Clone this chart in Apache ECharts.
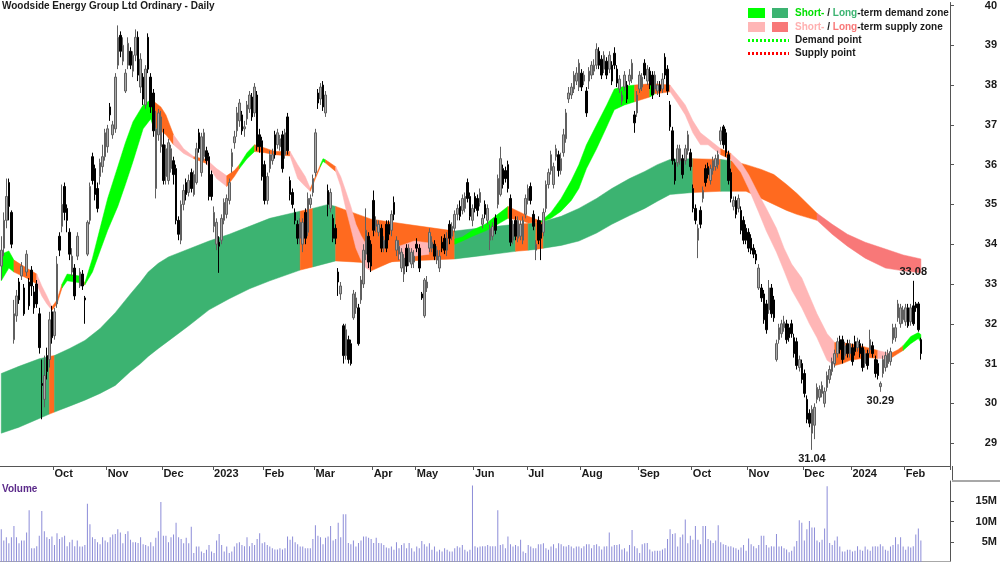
<!DOCTYPE html>
<html><head><meta charset="utf-8">
<script src="https://cdn.jsdelivr.net/npm/echarts@6/dist/echarts.min.js"></script>
<style>html,body{margin:0;padding:0;background:#fff}#c{width:1000px;height:562px}</style>
</head><body><div id="c"></div>
<script>
// ---------- DATA ----------
const slotCount = 375; // trading-day slots on the x axis (364 days + right margin)
const monthStarts = [21,42,64,84,104,124,147,164,187,208,229,252,273,295,317,336,357];
const monthLabels = ['Oct','Nov','Dec','2023','Feb','Mar','Apr','May','Jun','Jul','Aug','Sep','Oct','Nov','Dec','2024','Feb'];
const priceTicks = [29,30,31,32,33,34,35,36,37,38,39,40];
const volumeTicks = [5,10,15];

// [open, close, low, high]
const ohlc = [
[33.45,33.85,33.1,34.2],[33.9,34.6,33.7,34.8],[34.6,35.2,34.4,35.65],[35.55,34.95,34.6,35.65],[34.8,34.0,33.9,34.85],[31.6,32.25,31.5,32.6],[32.2,32.7,32.05,32.85],[33.05,32.6,32.5,33.15],[33.2,33.45,33.1,33.55],[32.9,32.25,32.2,33.0],
[33.3,33.75,33.2,33.85],[33.05,32.45,32.35,33.15],[33.35,32.95,32.7,33.45],[32.8,32.4,32.25,32.95],[33.0,32.5,32.4,33.1],[32.25,31.4,31.25,32.4],[30.5,30.45,29.6,31.1],[30.1,30.7,29.9,31.2],[31.2,30.8,30.6,31.4],[31.1,32.1,30.9,32.3],
[32.3,31.65,31.5,32.45],[31.7,32.3,31.6,32.4],[32.5,33.5,32.4,33.7],[34.2,33.85,33.7,34.3],[34.45,35.0,34.3,35.5],[35.45,34.8,34.6,35.55],[34.9,34.6,34.3,35.0],[34.3,33.75,33.6,34.4],[33.3,33.7,33.2,33.9],[33.4,32.7,32.6,33.5],
[33.7,34.2,33.6,34.3],[32.95,33.3,32.9,33.4],[33.25,32.95,32.85,33.35],[32.65,32.6,32.0,32.7],[33.75,34.55,33.7,34.6],[34.6,35.45,34.5,35.55],[36.2,35.6,35.5,36.3],[35.9,35.25,35.1,36.0],[35.4,34.9,34.8,35.55],[35.7,36.05,35.5,36.15],
[35.95,36.2,35.8,36.5],[36.2,36.8,36.1,36.9],[36.45,36.9,36.3,37.0],[37.45,37.25,37.1,37.55],[36.75,37.0,36.65,37.1],[36.9,38.2,36.8,38.3],[38.5,39.2,38.4,39.5],[39.25,38.85,38.7,39.35],[38.6,39.0,38.5,39.2],[37.85,38.3,37.8,38.4],
[38.5,39.05,38.4,39.2],[38.85,38.5,38.4,38.95],[38.35,38.75,38.2,38.85],[38.75,39.2,38.6,39.4],[39.2,38.25,38.1,39.35],[37.95,38.65,37.8,38.8],[38.2,37.65,37.5,38.3],[37.5,38.4,37.4,38.5],[39.2,38.4,38.3,39.3],[38.2,37.45,37.3,38.3],
[37.8,36.85,36.7,37.9],[35.4,36.9,35.15,37.35],[36.75,37.3,36.6,37.4],[36.45,37.2,36.3,37.35],[36.5,35.6,35.5,36.9],[35.7,36.4,35.5,36.5],[35.6,36.55,35.5,36.65],[35.9,36.4,35.8,36.5],[36.1,35.75,35.5,36.2],[35.9,34.6,34.5,36.0],
[34.6,34.25,34.1,34.7],[34.1,35.0,34.0,35.1],[35.0,35.35,34.85,35.5],[35.55,35.25,35.1,35.65],[35.3,35.6,35.2,35.75],[35.8,35.4,35.3,35.9],[35.25,35.75,35.2,35.85],[35.55,36.4,35.5,36.55],[36.8,36.4,36.3,36.9],[35.8,36.7,35.7,36.8],
[36.2,36.8,36.1,36.9],[36.35,36.1,36.0,36.45],[36.2,35.2,35.1,36.3],[35.75,35.2,35.1,35.85],[34.45,34.8,34.3,34.95],[34.0,34.55,33.85,34.65],[34.05,33.95,33.28,34.2],[34.1,34.65,34.0,34.75],[34.6,35.05,34.5,35.15],[34.75,35.15,34.65,35.25],
[35.1,35.55,35.0,35.65],[35.95,36.3,35.8,36.4],[36.55,36.7,36.4,36.85],[36.85,37.3,36.7,37.45],[37.1,37.55,36.95,37.65],[37.25,36.85,36.75,37.35],[36.9,36.95,36.7,37.1],[37.15,37.5,37.0,37.6],[37.4,37.75,37.3,37.85],[37.7,37.2,37.1,37.8],
[37.3,37.95,37.2,38.05],[37.75,36.45,36.35,37.85],[36.75,36.45,36.3,36.9],[36.6,35.7,35.6,36.7],[36.0,35.1,35.0,36.1],[35.1,35.7,35.0,35.8],[35.9,36.25,35.8,36.35],[36.1,36.25,36.0,36.4],[36.75,36.25,36.15,36.85],[36.5,36.8,36.4,36.9],
[36.45,36.65,36.35,36.75],[36.75,35.9,35.8,36.85],[36.25,36.8,36.15,36.9],[37.2,36.35,36.25,37.3],[35.6,35.25,35.1,35.7],[35.3,35.0,34.9,35.4],[34.8,34.6,34.5,34.9],[34.5,34.15,34.0,34.6],[34.15,34.55,34.0,34.65],[34.0,34.55,33.8,34.65],
[34.8,34.15,34.0,34.9],[34.3,35.15,34.2,35.3],[35.0,35.15,34.9,35.25],[35.3,35.65,35.2,35.75],[35.8,36.8,35.7,36.9],[37.8,37.55,37.4,37.9],[37.65,37.95,37.5,38.05],[38.0,37.45,37.35,38.1],[37.3,37.75,37.2,37.85],[35.35,35.0,34.7,35.5],
[34.9,35.3,34.8,35.4],[34.65,34.15,34.05,34.75],[34.4,34.15,34.0,34.5],[33.3,33.05,32.7,33.4],[32.75,32.95,32.6,33.05],[31.95,31.2,31.0,32.0],[31.2,31.85,31.1,32.0],[31.6,31.1,31.0,31.7],[31.5,31.0,30.95,31.6],[32.15,32.75,32.1,32.85],
[32.4,32.65,32.25,32.8],[32.4,31.5,31.45,32.5],[32.6,33.1,32.5,33.2],[33.0,33.85,32.9,34.0],[33.75,34.35,33.6,34.9],[34.2,33.55,33.4,34.3],[34.0,33.45,33.3,34.1],[35.1,34.35,34.2,35.35],[34.45,34.6,34.3,34.7],[34.3,34.5,34.2,34.6],
[34.4,33.9,33.8,34.5],[33.9,34.1,33.8,34.2],[34.5,33.9,33.8,34.6],[34.5,34.25,34.1,34.6],[34.35,34.75,34.2,34.85],[35.05,34.75,34.6,35.2],[33.85,34.1,33.7,34.2],[33.75,33.95,33.6,34.1],[33.4,33.8,33.3,33.9],[33.25,33.65,33.05,33.75],
[33.9,33.45,33.3,34.0],[33.55,33.9,33.45,34.0],[33.5,33.8,33.4,33.9],[33.55,33.7,33.4,33.85],[34.0,33.9,33.8,34.15],[33.9,33.4,33.3,34.0],[32.75,32.65,32.6,32.8],[32.2,33.1,32.15,33.15],[32.9,33.05,32.8,33.2],[33.9,34.3,33.8,34.4],
[33.9,34.05,33.8,34.2],[34.0,33.7,33.6,34.1],[33.6,33.85,33.5,33.95],[33.4,33.7,33.3,33.85],[34.05,33.9,33.8,34.2],[34.15,33.85,33.75,34.25],[33.85,34.15,33.7,34.3],[34.5,34.15,34.0,34.6],[34.2,34.45,34.1,34.55],[34.4,34.75,34.3,34.85],
[34.75,34.9,34.6,35.0],[34.95,34.7,34.6,35.1],[34.85,35.15,34.75,35.25],[34.9,35.2,34.8,35.3],[35.55,35.15,35.05,35.65],[35.2,34.7,34.6,35.3],[34.6,34.9,34.45,35.0],[35.2,34.9,34.8,35.3],[35.15,34.85,34.7,35.25],[35.05,35.3,34.95,35.4],
[34.5,34.65,34.4,34.75],[35.0,34.75,34.65,35.1],[34.6,34.9,34.5,35.0],[34.1,34.4,33.85,34.5],[34.2,34.45,34.1,34.55],[34.65,34.35,34.25,34.75],[35.0,35.65,34.9,35.75],[35.25,36.15,35.2,36.45],[35.9,35.5,35.4,36.0],[35.85,35.65,35.55,35.95],
[36.0,35.4,35.3,36.1],[35.15,34.05,33.95,35.25],[34.1,34.5,34.0,34.6],[34.6,34.2,34.1,34.7],[34.15,34.6,34.05,34.7],[34.2,34.5,34.1,34.6],[34.1,34.6,34.0,34.7],[34.75,35.15,34.65,35.25],[35.1,35.4,35.0,35.5],[35.45,35.1,35.0,35.55],
[34.75,34.45,34.35,34.85],[33.85,34.0,33.6,34.1],[34.6,34.1,34.0,34.7],[34.5,34.15,33.6,34.6],[34.3,34.8,34.2,34.9],[34.9,35.5,34.8,35.6],[35.5,35.8,35.4,35.9],[35.85,36.25,35.75,36.35],[35.5,35.95,35.4,36.05],[36.2,36.4,36.1,36.5],
[36.25,35.85,35.7,36.35],[35.85,36.15,35.75,36.3],[36.3,36.75,36.2,36.9],[36.65,37.3,36.55,37.4],[37.65,37.8,37.55,37.95],[37.75,37.95,37.65,38.05],[37.9,38.25,37.8,38.35],[38.1,38.3,38.0,38.45],[37.95,38.55,37.85,38.65],[38.3,37.95,37.85,38.4],
[38.1,38.25,38.0,38.35],[37.85,37.3,37.2,37.95],[38.1,38.35,37.9,38.45],[38.25,38.5,38.15,38.6],[38.35,38.5,38.25,38.65],[38.5,38.9,38.4,39.05],[38.85,38.5,38.4,38.95],[38.65,38.25,38.15,38.75],[38.4,38.75,38.3,38.85],[38.6,38.25,38.15,38.7],
[38.4,38.75,38.3,38.85],[38.5,38.1,38.0,38.6],[38.8,38.5,38.4,38.95],[38.4,38.05,37.95,38.5],[37.9,38.15,37.8,38.25],[37.6,37.75,37.5,37.85],[37.95,38.25,37.85,38.35],[38.0,37.65,37.55,38.1],[38.1,38.25,38.0,38.4],[38.15,38.55,38.05,38.65],
[37.25,37.05,36.8,37.35],[37.3,37.75,37.2,37.85],[37.9,38.25,37.8,38.35],[37.95,38.2,37.85,38.3],[38.55,38.25,38.15,38.65],[38.1,38.4,38.0,38.5],[38.35,38.0,37.9,38.45],[38.25,37.75,37.65,38.35],[37.9,38.25,37.8,38.35],[37.85,38.0,37.75,38.1],
[38.0,37.85,37.7,38.1],[37.9,38.15,37.8,38.3],[38.7,38.25,38.15,38.8],[38.4,37.85,37.75,38.5],[37.5,36.95,36.85,37.6],[36.85,36.1,36.0,36.95],[36.05,35.6,35.5,36.15],[36.05,36.4,35.95,36.5],[36.1,36.4,36.0,36.5],[36.15,35.75,35.65,36.25],
[36.1,36.4,36.0,36.5],[36.35,36.75,36.25,36.85],[36.3,35.95,35.85,36.4],[35.4,34.9,34.8,35.5],[34.9,34.6,34.5,35.0],[34.1,34.4,33.65,34.5],[34.85,34.5,34.4,34.95],[35.15,35.35,35.05,35.45],[35.9,35.55,35.45,36.0],[35.95,35.75,35.65,36.05],
[35.6,35.9,35.5,36.0],[35.85,36.1,35.75,36.2],[35.95,36.15,35.85,36.25],[36.0,36.25,35.9,36.35],[36.6,36.85,36.5,36.95],[36.95,36.5,36.4,37.0],[36.8,36.3,36.2,36.9],[36.25,35.6,35.5,36.35],[35.8,35.15,35.05,35.9],[34.95,35.1,34.85,35.2],
[35.1,34.75,34.65,35.2],[34.9,35.15,34.8,35.25],[34.85,34.35,34.25,34.95],[34.6,34.1,34.0,34.7],[34.4,34.1,34.0,34.5],[34.3,33.9,33.8,34.4],[34.15,33.85,33.75,34.25],[33.9,33.75,33.65,34.0],[33.75,33.6,33.5,33.85],[32.9,33.4,32.85,33.5],
[32.9,32.65,32.55,33.0],[32.75,32.1,32.0,32.85],[32.5,31.85,31.75,32.6],[32.35,32.9,32.25,33.1],[32.9,32.25,32.15,33.0],[32.6,32.15,32.05,32.7],[31.1,31.5,31.05,31.6],[31.6,31.9,31.5,32.0],[31.75,32.0,31.65,32.1],[31.9,32.05,31.8,32.2],
[32.0,31.6,31.5,32.1],[31.9,31.65,31.55,32.0],[32.0,31.75,31.65,32.1],[31.65,31.25,31.15,31.75],[31.55,30.95,30.85,31.65],[30.9,31.1,30.8,31.2],[31.0,30.6,30.5,31.1],[30.75,30.25,30.15,30.85],[30.1,29.6,29.5,30.2],[29.75,29.5,29.4,29.85],
[29.25,29.85,28.83,29.95],[29.45,29.9,29.1,30.0],[30.1,30.4,30.0,30.5],[30.15,30.35,30.05,30.45],[30.25,30.45,30.15,30.55],[30.0,30.3,29.9,30.4],[30.4,30.7,30.3,30.8],[30.6,30.85,30.5,30.95],[30.8,31.05,30.7,31.15],[31.0,31.25,30.9,31.35],
[31.25,31.55,31.15,31.65],[31.6,31.35,31.25,31.7],[31.6,31.1,31.0,31.7],[31.2,31.45,31.1,31.55],[31.5,31.25,31.15,31.6],[31.25,31.5,31.15,31.6],[31.4,31.05,30.95,31.5],[31.55,31.3,31.2,31.7],[31.4,31.55,31.3,31.65],[31.5,31.25,31.15,31.6],
[31.4,30.9,30.8,31.5],[31.0,31.25,30.9,31.35],[31.25,30.95,30.85,31.35],[31.35,31.6,31.25,31.85],[31.45,31.25,31.15,31.55],[31.1,30.75,30.65,31.2],[31.0,30.7,30.6,31.1],[30.42,30.5,30.29,30.55],[30.75,31.1,30.65,31.2],[30.9,31.2,30.8,31.3],
[31.0,31.25,30.9,31.35],[31.05,31.3,30.95,31.4],[31.6,31.9,31.5,32.0],[31.65,31.9,31.55,32.0],[32.15,32.5,32.05,32.6],[32.0,32.4,31.9,32.5],[32.1,32.35,32.0,32.45],[32.05,32.4,31.95,32.5],[32.4,31.95,31.9,32.5],[32.05,32.4,31.95,32.5],
[32.45,32.0,31.95,33.08],[32.5,32.4,32.3,32.55],[32.5,31.85,31.8,32.55],[31.6,31.25,31.1,31.65]
];

// daily volume, millions
const volumeM = [
8.1,5.3,6.1,4.6,6.1,8.9,6.1,4.6,5.3,5.3, 7.3,12.8,3.4,3.4,3.9,6.5,12.6,7.6,6.1,5.7,
6.3,4.2,7.1,5.7,6.1,6.5,3.9,4.9,5.5,3.9, 5.3,3.8,3.8,4.2,14.4,9.3,6.1,5.7,4.9,4.4,
6.1,5.3,4.9,6.1,6.8,6.9,8.1,7.3,4.6,6.9, 7.6,5.5,4.9,4.9,4.7,6.1,4.4,4.2,3.9,4.9,
3.9,6.0,7.6,14.8,6.5,6.5,4.9,6.1,6.8,9.7, 6.1,5.7,4.6,6.0,4.6,8.7,2.2,3.8,3.8,2.6,
2.2,3.0,4.2,2.6,2.2,5.3,6.9,4.2,2.6,3.8, 2.2,2.6,3.8,4.6,4.9,4.2,3.9,6.1,3.9,4.7,
4.2,5.7,7.1,4.6,4.9,4.2,3.8,3.4,3.1,3.1, 3.4,3.1,3.4,6.3,5.5,6.3,4.9,4.4,3.8,3.8,
3.4,3.4,3.4,5.7,9.1,6.5,6.1,4.4,6.0,6.3, 8.9,5.3,5.7,9.7,6.1,11.8,11.8,4.7,4.4,5.3,
3.8,4.7,5.3,6.3,6.3,6.0,5.7,4.7,6.0,4.7, 4.6,4.2,3.6,3.4,3.8,3.0,4.9,3.4,4.2,4.6,
3.4,4.7,3.4,2.6,3.8,3.4,5.2,4.4,3.8,4.6, 3.0,3.8,2.6,3.0,2.6,3.4,3.0,2.6,2.6,3.4,
3.9,3.6,4.2,3.0,2.6,3.0,18.9,3.9,3.6,3.8, 3.9,3.9,4.2,3.9,3.9,3.9,12.8,4.2,4.4,3.4,
6.3,4.4,3.8,4.2,3.9,5.5,2.6,2.2,4.2,3.8, 3.4,3.4,4.4,4.4,4.6,3.4,3.0,3.8,4.4,3.4,
4.6,4.4,3.9,3.8,4.2,3.8,3.4,3.8,3.8,3.4, 3.9,4.4,4.4,3.4,4.2,4.4,3.9,3.1,3.8,3.9,
7.3,3.8,4.2,4.2,4.4,3.1,3.4,2.6,4.2,7.9, 3.9,3.4,2.2,4.4,4.6,4.7,3.1,2.6,2.8,2.8,
2.8,3.1,3.4,5.7,8.1,6.9,7.1,3.8,6.1,6.8, 10.5,4.6,6.5,5.5,8.9,5.5,4.4,8.9,8.9,5.7,
5.3,4.7,5.3,9.1,4.9,4.4,4.2,3.8,3.9,3.6, 3.4,3.0,3.6,4.2,2.8,5.8,4.4,3.9,3.4,4.2,
6.5,6.5,4.2,3.6,3.9,3.8,6.9,3.8,3.9,3.4, 3.1,2.4,2.8,3.8,5.2,10.3,9.7,5.3,8.1,10.1,
8.5,8.5,5.3,4.9,5.5,8.3,18.7,4.7,4.2,5.3, 6.3,3.8,2.6,2.6,3.0,3.0,2.6,2.8,3.9,3.0,
2.8,3.8,3.1,2.8,3.8,3.9,3.8,4.4,3.9,3.0, 2.8,3.8,4.2,6.1,4.4,6.1,3.8,3.0,3.8,3.6,
3.9,6.8,8.3,5.3
];

// zone edges: [day index, edge A, edge B, colour key of the stretch that follows]
const longZone = [
[0,30.75,29.25,'g'],[7,30.93,29.4,'g'],[15,31.12,29.62,'g'],[19,31.18,29.73,'o'],[21,31.2,29.78,'g'],
[27,31.38,29.93,'g'],[33,31.58,30.08,'g'],[39,31.88,30.25,'g'],[45,32.28,30.45,'g'],[51,32.75,30.8,'g'],
[55,33.05,31.0,'g'],[58,33.3,31.18,'g'],[62,33.52,31.38,'g'],[66,33.68,31.57,'g'],[74,33.88,31.95,'g'],[82,34.08,32.35,'g'],[90,34.25,32.63,'g'],
[98,34.45,32.88,'g'],[106,34.65,33.08,'g'],[118,34.83,33.35,'o'],[123,34.9,33.43,'g'],[129,35.0,33.53,'g'],
[132,34.95,33.58,'o'],[146,34.63,33.53,'o'],[160,34.5,33.58,'o'],[179,34.33,33.63,'g'],[188,34.4,33.7,'g'],
[203,34.5,33.82,'o'],[208,34.52,33.85,'g'],[211,34.54,33.87,'o'],[214,34.57,33.9,'g'],[221,34.7,33.97,'g'],[228,34.9,34.08,'g'],
[235,35.15,34.28,'g'],[241,35.4,34.5,'g'],[248,35.65,34.72,'g'],[254,35.83,34.9,'g'],[259,36.0,35.08,'g'],[264,36.13,35.25,'g'],[273,36.15,35.3,'o'],[284,36.13,35.33,'g'],
[288,36.1,35.33,'o'],[294,36.0,35.33,'o'],[300,35.88,35.15,'o'],[305,35.75,35.0,'o'],[310,35.5,34.85,'o'],[314,35.28,34.75,'o'],[322,34.78,34.6,'p'],
[328,34.5,34.25,'p'],[334,34.25,33.95,'p'],[341,34.05,33.65,'p'],[349,33.88,33.4,'p'],[356,33.73,33.33,'p'],[363,33.63,33.28,'p']
];
const shortZone = [
[0,33.75,33.08,'g'],[3,33.83,33.4,'g'],[5,33.6,33.3,'o'],[10,33.4,33.15,'o'],[14,33.25,33.0,'p'],
[16,32.95,32.7,'p'],[18,32.7,32.5,'p'],[20,32.42,32.34,'o'],[22,32.6,32.5,'o'],[24,33.0,32.9,'g'],
[26,33.25,33.08,'g'],[31,33.2,33.03,'o'],[33,33.03,32.98,'g'],[36,33.65,33.3,'g'],[39,34.4,33.83,'g'],
[42,35.15,34.35,'g'],[46,35.95,34.95,'g'],[49,36.55,35.5,'g'],[52,37.08,36.08,'g'],[56,37.5,36.9,'g'],
[59,37.63,37.15,'g'],[60,37.6,36.95,'o'],[63,37.45,36.85,'o'],[65,37.25,36.75,'o'],[68,36.75,36.5,'p'],
[72,36.4,36.28,'p'],[76,36.2,36.15,'o'],[81,36.13,36.03,'p'],[85,35.9,35.65,'p'],[89,35.72,35.45,'o'],
[92,35.85,35.7,'o'],[94,36.0,35.9,'g'],[97,36.3,36.15,'g'],[100,36.5,36.33,'o'],[104,36.42,36.3,'o'],
[108,36.33,36.25,'o'],[114,36.33,36.22,'p'],[117,36.0,35.65,'p'],[120,35.7,35.45,'p'],[122,35.4,35.33,'o'],
[124,35.7,35.65,'o'],[126,36.0,35.95,'g'],[127,36.15,36.08,'g'],[128,36.12,36.04,'o'],[132,35.95,35.83,'p'],
[134,35.7,35.45,'p'],[136,35.33,34.9,'p'],[138,34.95,34.4,'p'],[140,34.5,33.9,'p'],[142,34.22,33.6,'p'],
[144,34.0,33.4,'p'],[146,33.7,33.33,'o'],[153,33.83,33.53,'o'],[157,33.95,33.63,'p'],[163,34.08,33.7,'p'],
[169,34.03,33.75,'o'],[179,34.13,34.0,'g'],[182,34.18,34.08,'g'],[186,34.35,34.2,'g'],[191,34.5,34.33,'g'],
[196,34.75,34.5,'g'],[200,34.95,34.65,'o'],[205,34.8,34.6,'o'],[208,34.7,34.53,'o'],[213,34.58,34.55,'g'],
[217,34.8,34.65,'g'],[221,35.15,34.83,'g'],[225,35.6,35.1,'g'],[228,36.0,35.4,'g'],[231,36.5,35.9,'g'],
[235,37.0,36.4,'g'],[239,37.5,36.95,'g'],[242,37.9,37.38,'g'],[246,37.97,37.5,'g'],[250,38.0,37.58,'o'],
[256,38.03,37.7,'g'],[258,38.03,37.78,'o'],[264,38.0,37.83,'p'],[267,37.75,37.55,'p'],[270,37.5,37.25,'p'],
[273,37.1,36.8,'p'],[276,36.8,36.5,'p'],[279,36.65,36.5,'p'],[284,36.4,36.25,'o'],[288,36.28,36.13,'p'],
[292,36.05,35.8,'p'],[295,35.75,35.4,'p'],[299,35.25,34.8,'p'],[302,34.9,34.33,'p'],[306,34.4,33.8,'p'],
[309,33.9,33.33,'p'],[312,33.5,32.85,'p'],[316,33.15,32.4,'p'],[319,32.7,32.0,'p'],[322,32.25,31.65,'p'],
[326,31.75,31.08,'p'],[329,31.53,30.95,'o'],[332,31.52,31.0,'o'],[335,31.5,31.08,'o'],[339,31.45,31.12,'o'],
[342,31.4,31.15,'o'],[346,31.33,31.13,'p'],[351,31.25,31.13,'o'],[354,31.35,31.25,'o'],[356,31.45,31.33,'g'],
[359,31.68,31.5,'g'],[362,31.78,31.63,'g'],[363,31.73,31.53,'g']
];

const annotations = [
  {idx: 360, price: 33.08, text: '33.08', pos: 'top'},
  {idx: 347, price: 30.29, text: '30.29', pos: 'bottom'},
  {idx: 320, price: 28.83, text: '31.04', pos: 'bottom'}
];

// ---------- STYLE ----------
const FONT = 'Liberation Sans, Arial, sans-serif';
const shortColors = {g: '#00ff00', p: '#ffb6b6', o: '#ff6a1f'};
const longColors  = {g: '#3cb371', p: '#f87878', o: '#ff6a1f'};

const categories = Array.from({length: slotCount}, (_, i) => String(i));
const monthSet = new Map(monthStarts.map((s, k) => [s, monthLabels[k]]));

function zoneSeries(knots, colors, z) {
  const runs = [];
  for (let i = 0; i < knots.length - 1; i++) {
    const c = knots[i][3];
    const last = runs[runs.length - 1];
    if (last && last.c === c) last.e = i + 1; else runs.push({s: i, e: i + 1, c});
  }
  return {
    type: 'custom', xAxisIndex: 0, yAxisIndex: 0, z, silent: true, clip: true,
    data: runs.map(r => [knots[r.s][0], knots[r.s][1]]),
    renderItem(params, api) {
      const r = runs[params.dataIndex];
      const a = [], b = [];
      for (let k = r.s; k <= r.e; k++) {
        a.push(api.coord([knots[k][0], knots[k][1]]));
        b.push(api.coord([knots[k][0], knots[k][2]]));
      }
      return {type: 'polygon', shape: {points: a.concat(b.reverse())},
              style: {fill: colors[r.c], stroke: colors[r.c], lineWidth: 0.5}};
    }
  };
}

const chart = echarts.init(document.getElementById('c'), null, {renderer: 'canvas'});
const boldLabel = {fontFamily: FONT, fontWeight: 'bold', fontSize: 11, color: '#1a1a1a'};
const legendRich = (c1, c2) => ({
  a: {fill: c1, fontFamily: FONT, fontSize: 10, fontWeight: 'bold'},
  b: {fill: c2, fontFamily: FONT, fontSize: 10, fontWeight: 'bold'},
  k: {fill: '#1a1a1a', fontFamily: FONT, fontSize: 10, fontWeight: 'bold'}
});

chart.setOption({
  animation: false,
  backgroundColor: '#fff',
  title: [
    {text: 'Woodside Energy Group Ltd Ordinary - Daily', left: 2, top: 1, padding: 0,
     textStyle: {fontFamily: FONT, fontWeight: 'bold', fontSize: 10, color: '#1a1a1a'}},
    {text: 'Volume', left: 2, top: 484, padding: 0,
     textStyle: {fontFamily: FONT, fontWeight: 'bold', fontSize: 10, color: '#5b2a8a'}}
  ],
  grid: [
    {left: 0, right: 48, top: 0, height: 466},
    {left: 0, right: 48, top: 481, height: 85}
  ],
  xAxis: [
    {type: 'category', gridIndex: 0, data: categories, boundaryGap: true,
     axisLine: {lineStyle: {color: '#555', width: 1}},
     axisTick: {show: true, length: 4, interval: (i) => monthSet.has(i), lineStyle: {color: '#555'}},
     axisLabel: Object.assign({interval: (i) => monthSet.has(i), formatter: (v, i) => monthSet.get(i) || '',
       align: 'left', margin: 2}, boldLabel),
     splitLine: {show: false}},
    {type: 'category', gridIndex: 1, data: categories, boundaryGap: true, position: 'top',
     axisLine: {lineStyle: {color: '#a8a8a8', width: 2}},
     axisTick: {show: false}, axisLabel: {show: false}, splitLine: {show: false}}
  ],
  yAxis: [
    {type: 'value', gridIndex: 0, position: 'right', min: 28.425, max: 40.075, scale: true,
     axisLine: {show: true, lineStyle: {color: '#555'}},
     axisTick: {show: true, length: 4, customValues: priceTicks, lineStyle: {color: '#555'}},
     axisLabel: Object.assign({customValues: priceTicks, align: 'right', margin: 47}, boldLabel),
     splitLine: {show: false}},
    {type: 'value', gridIndex: 1, position: 'right', min: 0, max: 20,
     axisLine: {show: true, lineStyle: {color: '#555'}},
     axisTick: {show: true, length: 4, customValues: volumeTicks, lineStyle: {color: '#555'}},
     axisLabel: Object.assign({customValues: volumeTicks, formatter: v => v + 'M', align: 'right', margin: 47}, boldLabel),
     splitLine: {show: false}}
  ],
  series: [
    zoneSeries(longZone, longColors, 1),
    zoneSeries(shortZone, shortColors, 2),
    {type: 'candlestick', xAxisIndex: 0, yAxisIndex: 0, z: 3, data: ohlc, barWidth: 2,
     itemStyle: {color: '#aaaaaa', borderColor: '#606060', color0: '#000', borderColor0: '#000', borderWidth: 1},
     markPoint: {
       symbol: 'circle', symbolSize: 1, itemStyle: {color: 'rgba(0,0,0,0)'}, silent: true,
       data: annotations.map(a => ({coord: [a.idx, a.price], value: a.text,
         label: {show: true, position: a.pos, distance: 3, formatter: a.text,
                 fontFamily: FONT, fontWeight: 'bold', fontSize: 11, color: '#1a1a1a'}}))
     }},
    {type: 'bar', xAxisIndex: 1, yAxisIndex: 1, data: volumeM, barWidth: 1,
     itemStyle: {color: '#8c8cd8'}, silent: true}
  ],
  graphic: [
    {type: 'line', shape: {x1: 952.5, y1: 466, x2: 952.5, y2: 481}, style: {stroke: '#555', lineWidth: 1}},
    {type: 'line', shape: {x1: 952, y1: 481, x2: 1000, y2: 481}, style: {stroke: '#a8a8a8', lineWidth: 2}},
    {type: 'rect', shape: {x: 748, y: 8, width: 17, height: 10}, style: {fill: '#00ff00'}},
    {type: 'rect', shape: {x: 772, y: 8, width: 16, height: 10}, style: {fill: '#3cb371'}},
    {type: 'rect', shape: {x: 748, y: 22, width: 17, height: 10}, style: {fill: '#ffb6b6'}},
    {type: 'rect', shape: {x: 772, y: 22, width: 16, height: 10}, style: {fill: '#f87878'}},
    {type: 'line', shape: {x1: 748, y1: 40.5, x2: 789, y2: 40.5}, style: {stroke: '#00ff00', lineWidth: 3, lineDash: [2, 2]}},
    {type: 'line', shape: {x1: 748, y1: 53.5, x2: 789, y2: 53.5}, style: {stroke: '#ff0000', lineWidth: 3, lineDash: [2, 2]}},
    {type: 'text', x: 795, y: 13, style: {text: '{a|Short-}{k| / }{b|Long}{k|-term demand zone}', verticalAlign: 'middle',
      rich: legendRich('#00e000', '#3cb371')}},
    {type: 'text', x: 795, y: 27, style: {text: '{a|Short-}{k| / }{b|Long}{k|-term supply zone}', verticalAlign: 'middle',
      rich: legendRich('#ffb0b0', '#f87878')}},
    {type: 'text', x: 795, y: 40, style: {text: 'Demand point', verticalAlign: 'middle', fill: '#1a1a1a', font: 'bold 10px ' + FONT}},
    {type: 'text', x: 795, y: 53, style: {text: 'Supply point', verticalAlign: 'middle', fill: '#1a1a1a', font: 'bold 10px ' + FONT}}
  ]
});
</script>
</body></html>
